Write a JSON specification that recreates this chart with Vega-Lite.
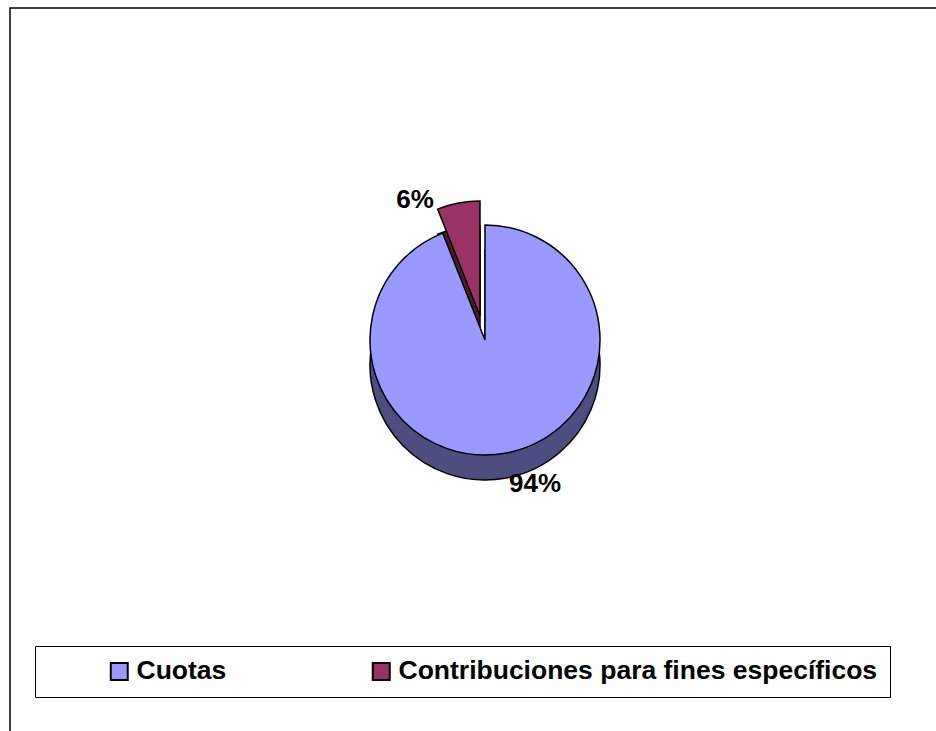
{
  "$schema": "https://vega.github.io/schema/vega-lite/v6.json",
  "autosize": {"type": "fit", "contains": "padding"},
  "width": 936,
  "height": 731,
  "padding": {"left": 10, "top": 8, "right": -5, "bottom": -5},
  "background": "white",
  "view": {"stroke": "#000", "strokeWidth": 1.5, "fill": "white"},
  "config": {
    "view": {"stroke": "#000", "strokeWidth": 1.5},
    "font": "Liberation Sans",
    "legend": {
      "orient": "none",
      "legendX": 25,
      "legendY": 638,
      "direction": "horizontal",
      "strokeColor": "#000",
      "strokeWidth": 1,
      "padding": 12,
      "symbolType": "square",
      "symbolSize": 289,
      "symbolStrokeColor": "#000",
      "symbolStrokeWidth": 2,
      "symbolOffset": 59,
      "labelOffset": 4,
      "labelFont": "Liberation Sans",
      "labelFontWeight": "bold",
      "labelFontSize": 26.5,
      "labelColor": "#000",
      "labelLimit": 1000,
      "columnPadding": 82
    }
  },
  "data": {
    "values": [
      {"Fuente": "Cuotas", "Porcentaje": 0.94, "orden": 1},
      {"Fuente": "Contribuciones para fines específicos", "Porcentaje": 0.06, "orden": 2}
    ]
  },
  "transform": [
    {"stack": "Porcentaje", "groupby": [], "sort": [{"field": "orden", "order": "ascending"}], "as": ["inicio", "fin"]}
  ],
  "layer": [
    {
      "transform": [{"filter": "datum.orden == 2"}],
      "mark": {"type": "arc", "outerRadius": 115, "fill": "#4D1A33", "stroke": "#000", "strokeWidth": 1.5, "xOffset": 4.5, "yOffset": -31},
      "encoding": {
        "theta": {"field": "inicio", "type": "quantitative", "scale": {"domain": [0, 1]}},
        "theta2": {"field": "fin"}
      }
    },
    {
      "transform": [{"filter": "datum.orden == 2"}],
      "mark": {"type": "arc", "outerRadius": 115, "stroke": "#000", "strokeWidth": 1.5, "xOffset": 4.5, "yOffset": -56},
      "encoding": {
        "theta": {"field": "inicio", "type": "quantitative", "scale": {"domain": [0, 1]}},
        "theta2": {"field": "fin"},
        "color": {"field": "Fuente", "type": "nominal",
          "legend": {"title": null, "labelExpr": "indexof(datum.label, 'Contrib') == 0 ? datum.label + '\u00a0\u00a0\u00a0\u00a0\u00a0\u00a0\u00a0\u00a0\u00a0\u00a0' : datum.label"},
          "scale": {"domain": ["Cuotas", "Contribuciones para fines específicos"], "range": ["#9999FF", "#993366"]}}
      }
    },
    {
      "transform": [{"filter": "datum.orden == 1"}],
      "mark": {"type": "arc", "outerRadius": 115, "fill": "#4D4D80", "stroke": "#000", "strokeWidth": 1.5, "xOffset": 9.5, "yOffset": -7},
      "encoding": {
        "theta": {"field": "inicio", "type": "quantitative", "scale": {"domain": [0, 1]}},
        "theta2": {"field": "fin"}
      }
    },
    {
      "transform": [{"filter": "datum.orden == 1"}],
      "mark": {"type": "arc", "outerRadius": 115, "stroke": "#000", "strokeWidth": 1.5, "xOffset": 9.5, "yOffset": -32},
      "encoding": {
        "theta": {"field": "inicio", "type": "quantitative", "scale": {"domain": [0, 1]}},
        "theta2": {"field": "fin"},
        "color": {"field": "Fuente", "type": "nominal",
          "legend": {"title": null, "labelExpr": "indexof(datum.label, 'Contrib') == 0 ? datum.label + '\u00a0\u00a0\u00a0\u00a0\u00a0\u00a0\u00a0\u00a0\u00a0\u00a0' : datum.label"},
          "scale": {"domain": ["Cuotas", "Contribuciones para fines específicos"], "range": ["#9999FF", "#993366"]}}
      }
    },
    {
      "mark": {"type": "text", "radius": 150, "fontSize": 26, "fontWeight": "bold", "font": "Liberation Sans", "color": "#000", "xOffset": 31.5, "yOffset": -35.5},
      "encoding": {
        "theta": {"field": "Porcentaje", "type": "quantitative", "stack": true, "scale": {"domain": [0, 1]}},
        "order": {"field": "orden"},
        "detail": {"field": "Fuente"},
        "text": {"condition": {"test": "datum.orden == 1", "field": "Porcentaje", "format": ".0%"}, "value": ""}
      }
    },
    {
      "mark": {"type": "text", "radius": 115, "fontSize": 26, "fontWeight": "bold", "font": "Liberation Sans", "color": "#000", "xOffset": -39, "yOffset": -59},
      "encoding": {
        "theta": {"field": "Porcentaje", "type": "quantitative", "stack": true, "scale": {"domain": [0, 1]}},
        "order": {"field": "orden"},
        "detail": {"field": "Fuente"},
        "text": {"condition": {"test": "datum.orden == 2", "field": "Porcentaje", "format": ".0%"}, "value": ""}
      }
    }
  ]
}
